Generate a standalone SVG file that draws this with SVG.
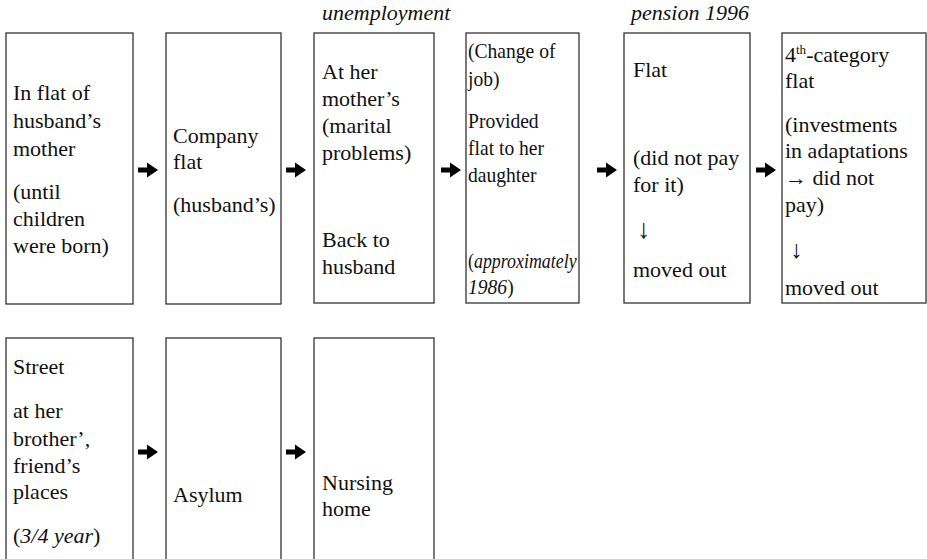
<svg xmlns="http://www.w3.org/2000/svg" width="927" height="559" viewBox="0 0 927 559">
  <style>
    .box { fill: #fff; stroke: #333; stroke-width: 1.3; }
    .it { font-style: italic; }
    .sup { font-size: 13px; }
  </style>
  <defs>
    <path id="arr" d="M0,-2.6 H9 V-7.5 L20,0 L9,7.5 V2.6 H0 Z" fill="#000"/>
  </defs>
  <rect width="927" height="559" fill="#fff"/>

  <g font-family="Liberation Serif, Times New Roman, serif" font-size="22" fill="#111">
  <!-- period labels above boxes -->
  <text class="it" x="322" y="20">unemployment</text>
  <text class="it" x="631" y="20">pension 1996</text>

  <g id="n1">
    <rect class="box" x="6" y="33" width="127" height="271"/>
    <text x="13" y="100">In flat of</text>
    <text x="13" y="128">husband’s</text>
    <text x="13" y="156">mother</text>
    <text x="13" y="199">(until</text>
    <text x="13" y="226">children</text>
    <text x="13" y="253">were born)</text>
  </g>

  <g id="n2">
    <rect class="box" x="166" y="33" width="115" height="271"/>
    <text x="173" y="143">Company</text>
    <text x="173" y="169">flat</text>
    <text x="173" y="212">(husband’s)</text>
  </g>

  <g id="n3">
    <rect class="box" x="314" y="33" width="120" height="270"/>
    <text x="322" y="79">At her</text>
    <text x="322" y="106">mother’s</text>
    <text x="322" y="133">(marital</text>
    <text x="322" y="160">problems)</text>
    <text x="322" y="247">Back to</text>
    <text x="322" y="274">husband</text>
  </g>

  <g id="n4">
    <rect class="box" x="466" y="33" width="113" height="270"/>
    <!-- narrower set for this box -->
    <g transform="translate(468,0) scale(0.89,1)">
      <text x="0" y="58">(Change of</text>
      <text x="0" y="86">job)</text>
      <text x="0" y="128">Provided</text>
      <text x="0" y="155">flat to her</text>
      <text x="0" y="182">daughter</text>
      <text x="0" y="268" textLength="122" lengthAdjust="spacingAndGlyphs">(<tspan class="it">approximately</tspan></text>
      <text x="0" y="294"><tspan class="it">1986</tspan>)</text>
    </g>
  </g>

  <g id="n5">
    <rect class="box" x="624" y="33" width="126" height="270"/>
    <text x="633" y="77">Flat</text>
    <text x="633" y="165">(did not pay</text>
    <text x="633" y="192">for it)</text>
    <text x="637" y="238" font-size="27">↓</text>
    <text x="633" y="277">moved out</text>
  </g>

  <g id="n6">
    <rect class="box" x="782" y="33" width="144" height="270"/>
    <text x="785" y="62">4<tspan class="sup" dy="-8">th</tspan><tspan dy="8">-category</tspan></text>
    <text x="785" y="88">flat</text>
    <text x="785" y="132">(investments</text>
    <text x="785" y="158">in adaptations</text>
    <text x="785" y="185">→ did not</text>
    <text x="785" y="212">pay)</text>
    <text x="790" y="258" font-size="25">↓</text>
    <text x="785" y="295">moved out</text>
  </g>

  <g id="n7">
    <rect class="box" x="6" y="338" width="127" height="240"/>
    <text x="13" y="374">Street</text>
    <text x="13" y="418">at her</text>
    <text x="13" y="446">brother’,</text>
    <text x="13" y="473">friend’s</text>
    <text x="13" y="499">places</text>
    <text x="13" y="543">(<tspan class="it">3/4 year</tspan>)</text>
  </g>

  <g id="n8">
    <rect class="box" x="166" y="338" width="115" height="240"/>
    <text x="173" y="502">Asylum</text>
  </g>

  <g id="n9">
    <rect class="box" x="314" y="338" width="120" height="240"/>
    <text x="322" y="490">Nursing</text>
    <text x="322" y="516">home</text>
  </g>
  </g>

  <g id="connectors">
    <use href="#arr" x="138" y="170"/>
    <use href="#arr" x="286" y="170"/>
    <use href="#arr" x="441" y="170"/>
    <use href="#arr" x="597" y="170"/>
    <use href="#arr" x="756" y="170"/>
    <use href="#arr" x="138" y="452"/>
    <use href="#arr" x="286" y="452"/>
  </g>
</svg>
